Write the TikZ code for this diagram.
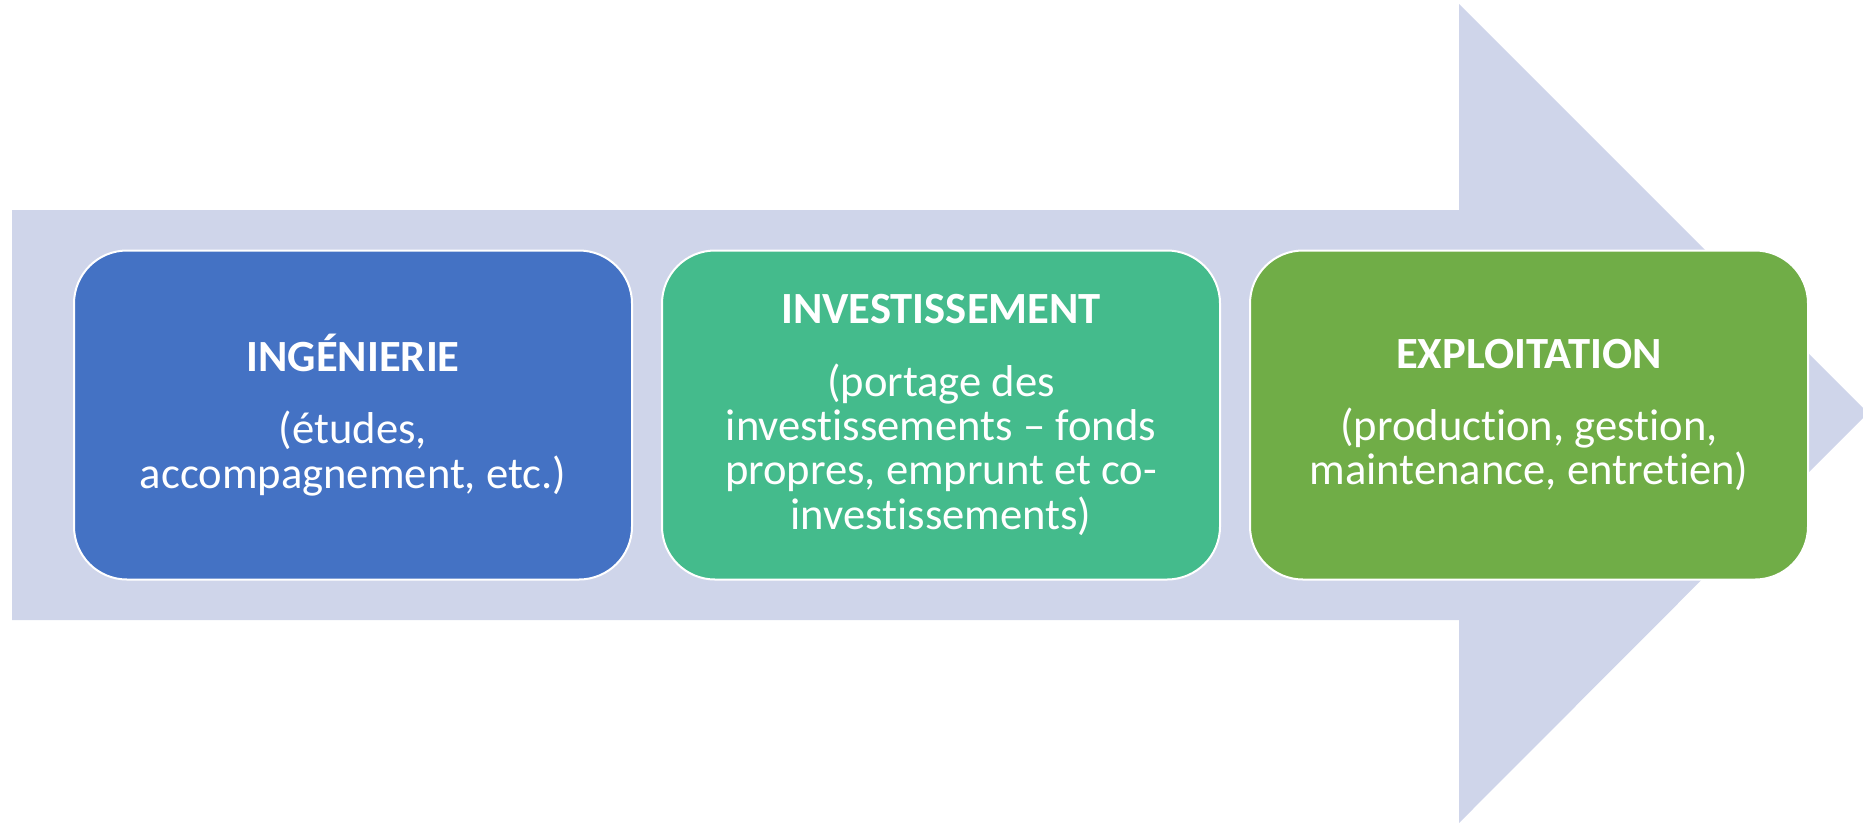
\documentclass[tikz,border=0pt]{standalone}
\usepackage{fontspec}
\setmainfont{Carlito}[Ligatures=CommonOff]
\usetikzlibrary{positioning}

\definecolor{arrowfill}{HTML}{CFD5EA}
\definecolor{stepblue}{HTML}{4472C4}
\definecolor{stepteal}{HTML}{44BB8C}
\definecolor{stepgreen}{HTML}{70AD47}

\begin{document}
\begin{tikzpicture}[
            x = 0.5pt, y = -0.5pt, % pixel grid, y downwards
            node distance = 15pt, % gap between boxes
        ]
 \tikzstyle{phasebox}=[
            shape = rectangle,
            rounded corners = 26.5pt,
            draw = white,
            line width = 1pt,
            outer sep = 0pt,
            minimum width = 279pt,
            minimum height = 164.5pt,
            text = white,
            align = center,
            font = \fontsize{22.3}{22.2}\selectfont
        ]
\useasboundingbox (0,0) rectangle (1863,826);
% big background arrow
\fill[arrowfill] (12,210) -- (1459,210) -- (1459,4) -- (1868,413)
  -- (1459,823) -- (1459,620) -- (12,620) -- cycle;
\node[phasebox, fill=stepblue](ing) at (353,415)
  {\textbf{INGÉNIERIE}\\[14pt](études,\\accompagnement, etc.)};
\node[phasebox, fill=stepteal, right=of ing](inv)
  {\textbf{INVESTISSEMENT}\\[14pt](portage des\\investissements – fonds\\propres, emprunt et co-\\investissements)};
\node[phasebox, fill=stepgreen, right=of inv](exp)
  {\textbf{EXPLOITATION}\\[14pt](production, gestion,\\maintenance, entretien)};
\end{tikzpicture}
\end{document}
